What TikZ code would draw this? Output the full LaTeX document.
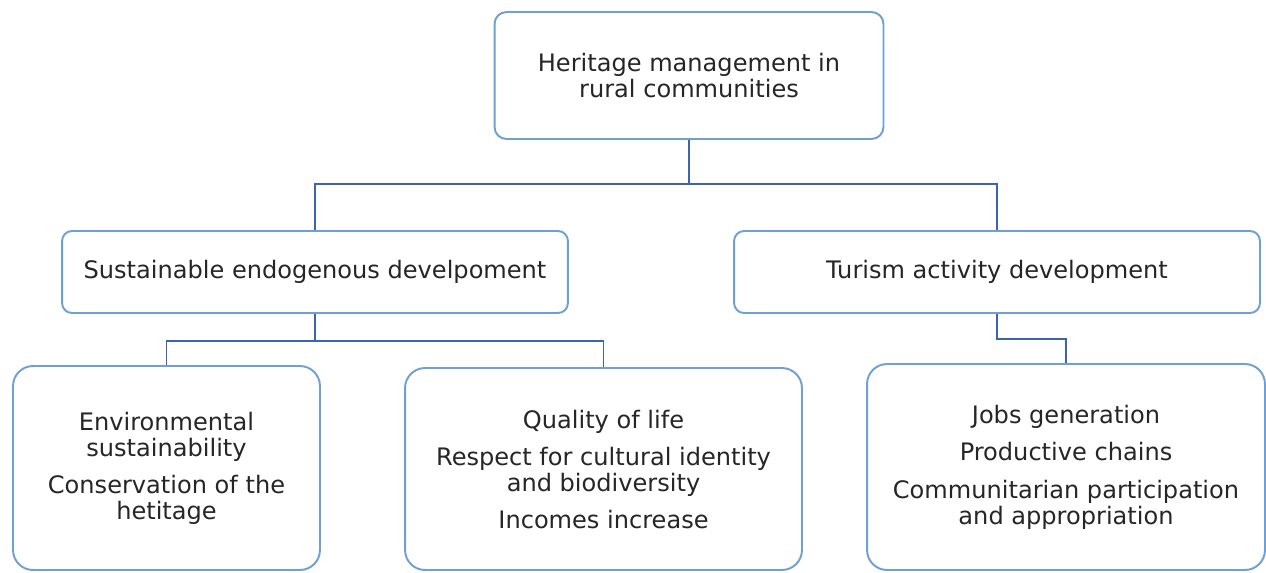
\documentclass[tikz,border=0pt]{standalone}
\usepackage{fontspec}
\setmainfont{DejaVu Sans}
\definecolor{boxblue}{RGB}{110,160,215}
\definecolor{linkblue}{RGB}{60,100,180}
\begin{document}
\begin{tikzpicture}[x=0.02cm,y=-0.02cm,
  box/.style={draw=boxblue,line width=1.1pt,fill=white,align=center,inner sep=0pt,
    font=\fontsize{13.7}{14.7}\selectfont,text=black!85},
  link/.style={draw=linkblue,line width=1.1pt}]
\useasboundingbox (0,0) rectangle (1266,572);
\node[box,rounded corners=0.24cm,minimum width=7.78cm,minimum height=2.54cm] (top) at (689,75.5) {Heritage management in\\rural communities};
\node[box,rounded corners=0.2cm,minimum width=10.12cm,minimum height=1.64cm] (ml) at (315,272) {Sustainable endogenous develpoment};
\node[box,rounded corners=0.2cm,minimum width=10.52cm,minimum height=1.64cm] (mr) at (997,272) {Turism activity development};
\node[box,rounded corners=0.4cm,minimum width=6.14cm,minimum height=4.08cm] (bl) at (166.5,468) {\\[-4pt]Environmental\\sustainability\\[6.5pt]Conservation of the\\hetitage};
\node[box,rounded corners=0.4cm,minimum width=7.94cm,minimum height=4.04cm] (bm) at (603.5,469) {\\[-4pt]Quality of life\\[6.5pt]Respect for cultural identity\\and biodiversity\\[6.5pt]Incomes increase};
\node[box,rounded corners=0.4cm,minimum width=7.96cm,minimum height=4.12cm] (br) at (1066,467) {\\[-4pt]Jobs generation\\[6.5pt]Productive chains\\[6.5pt]Communitarian participation\\and appropriation};
\coordinate (bus1) at (0,184);
\coordinate (bus2) at (0,341);
\coordinate (bus3) at (0,339);
\draw[link] (top.south) -- (top.south |- bus1) -| (ml.north);
\draw[link] (top.south |- bus1) -| (mr.north);
\draw[link] (ml.south) -- (ml.south |- bus2) -| (bl.north);
\draw[link] (ml.south |- bus2) -| (bm.north);
\draw[link] (mr.south) -- (mr.south |- bus3) -| (br.north);
\end{tikzpicture}
\end{document}
